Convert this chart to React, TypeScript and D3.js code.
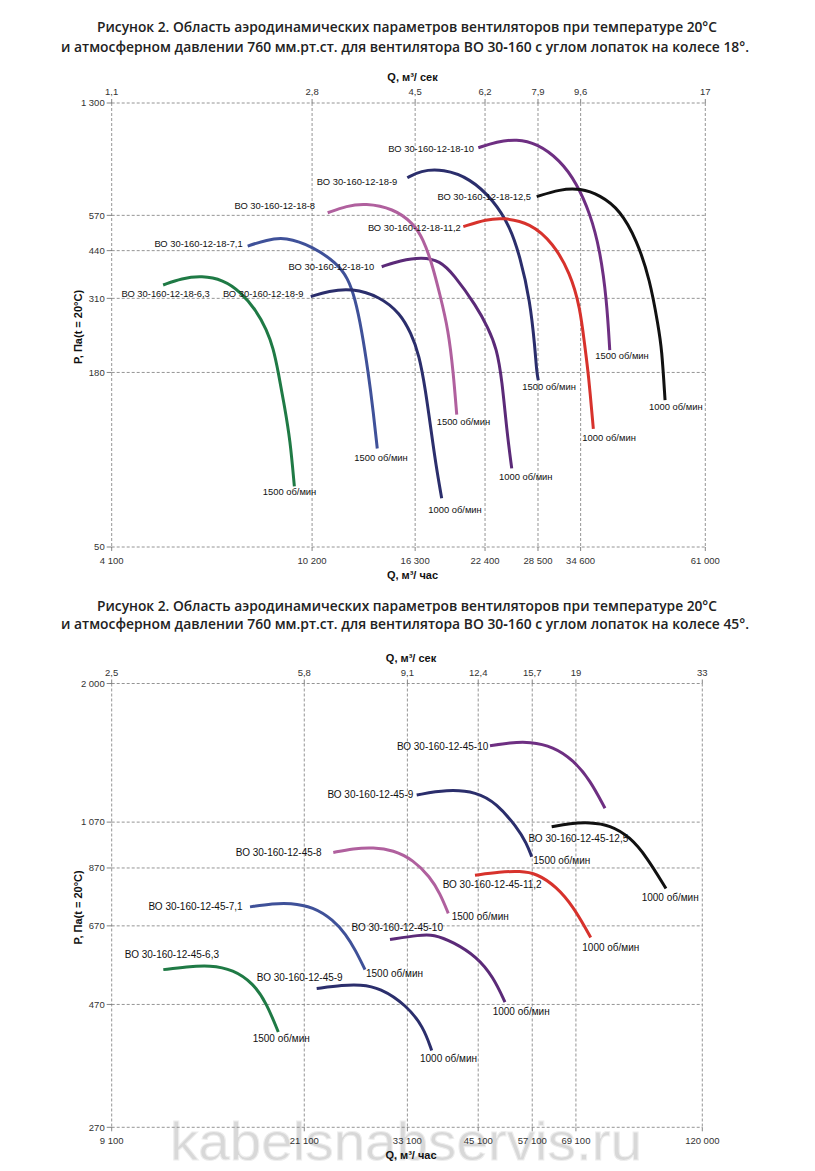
import React from "react";
import * as d3 from "d3";

type Pt = [number, number];

// ---------- Chart 1 (18°) ----------
const title18 = [
  "Рисунок 2. Область аэродинамических параметров вентиляторов при температуре 20°C",
  "и атмосферном давлении 760 мм.рт.ст. для вентилятора ВО 30‑160 с углом лопаток на колесе 18°.",
];
const qTicks18 = [4100, 10200, 16300, 22400, 28500, 34600, 61000];
const qTickLabels18 = ["4 100", "10 200", "16 300", "22 400", "28 500", "34 600", "61 000"];
const qSecLabels18 = ["1,1", "2,8", "4,5", "6,2", "7,9", "9,6", "17"];
const pTicks18 = [1300, 570, 440, 310, 180, 50];
const pTickLabels18 = ["1 300", "570", "440", "310", "180", "50"];

const s18_63: Pt[] = [[5180, 342], [5640, 359], [6175, 366], [6810, 355], [7350, 326], [7900, 285], [8300, 246], [8550, 215], [8750, 180], [9000, 140], [9230, 110], [9410, 78]];
const s18_71: Pt[] = [[7610, 455], [8300, 476], [9020, 487], [10260, 453], [11410, 401], [12000, 360], [12400, 310], [12780, 246], [13170, 180], [13480, 134], [13720, 103]];
const s18_9a: Pt[] = [[10140, 314], [11000, 327], [12215, 334], [13890, 314], [15220, 278], [16000, 240], [16600, 205], [17090, 158], [17520, 118], [17920, 91], [18390, 71.5]];
const s18_10a: Pt[] = [[14000, 391], [15216, 409], [16817, 420], [18250, 408], [19390, 371], [21570, 292], [22700, 250], [23620, 215], [24200, 170], [24720, 118], [25290, 89]];
const s18_8: Pt[] = [[10950, 581], [11940, 611], [12976, 623], [14756, 600], [16164, 538], [16900, 480], [17600, 400], [18252, 318], [18955, 246], [19390, 180], [19694, 132]];
const s18_9b: Pt[] = [[15730, 751], [16665, 791], [18528, 801], [20920, 748], [23258, 638], [25094, 525], [26262, 421], [27485, 306], [28116, 215], [28333, 180], [28541, 170]];
const s18_10b: Pt[] = [[21726, 936], [23621, 979], [25872, 998], [28333, 967], [31507, 856], [33994, 721], [36114, 579], [37795, 442], [38961, 306], [39500, 212]];
const s18_112: Pt[] = [[20293, 525], [22568, 554], [24340, 560], [27485, 540], [30556, 465], [32970, 373], [34504, 292], [35296, 215], [35832, 180], [36658, 119]];
const s18_125: Pt[] = [[28333, 654], [31507, 690], [34504, 695], [37795, 662], [41390, 593], [44657, 476], [47440, 355], [49266, 252], [50036, 215], [50795, 147]];

// ---------- Chart 2 (45°) ----------
const title45 = [
  "Рисунок 2. Область аэродинамических параметров вентиляторов при температуре 20°C",
  "и атмосферном давлении 760 мм.рт.ст. для вентилятора ВО 30‑160 с углом лопаток на колесе 45°.",
];
const qTicks45 = [9100, 21100, 33100, 45100, 57100, 69100, 120000];
const qTickLabels45 = ["9 100", "21 100", "33 100", "45 100", "57 100", "69 100", "120 000"];
const qSecLabels45 = ["2,5", "5,8", "9,1", "12,4", "15,7", "19", "33"];
const pTicks45 = [2000, 1070, 870, 670, 470, 270];
const pTickLabels45 = ["2 000", "1 070", "870", "670", "470", "270"];

const s45_63: Pt[] = [[11400, 550], [12626, 557], [13978, 561], [15476, 550], [16889, 517], [17905, 472], [18836, 415]];
const s45_71: Pt[] = [[16647, 730], [18429, 741], [19822, 743], [21946, 730], [23950, 688], [25300, 645], [26400, 600], [27506, 550]];
const s45_9a: Pt[] = [[22275, 505], [25020, 513], [26912, 514], [29368, 507], [32998, 468], [35481, 425], [36808, 382]];
const s45_10a: Pt[] = [[30681, 630], [34972, 643], [37065, 645], [40447, 623], [44799, 583], [48166, 532], [50690, 475]];
const s45_8: Pt[] = [[23950, 933], [26135, 950], [28521, 955], [31124, 943], [33963, 902], [36535, 836], [38163, 776], [39573, 709]];
const s45_9b: Pt[] = [[34473, 1209], [39296, 1240], [44799, 1227], [48884, 1164], [53348, 1048], [55729, 972], [56962, 915]];
const s45_10b: Pt[] = [[47480, 1510], [51814, 1531], [56533, 1538], [62595, 1504], [68312, 1416], [73476, 1294], [78448, 1139]];
const s45_112: Pt[] = [[44468, 842], [49594, 855], [54122, 858], [58217, 849], [63529, 799], [68312, 730], [72424, 657], [73704, 636]];
const s45_125: Pt[] = [[62158, 1048], [67328, 1064], [73476, 1069], [80181, 1056], [87495, 1001], [94113, 915], [102393, 793]];

// ---------- styling / layout ----------
const C = {
  green: "#1f7a45",
  blue: "#3f5199",
  navy: "#2b2e6c",
  purple: "#5b2a78",
  purple2: "#6e2f82",
  pink: "#b0609e",
  red: "#d7322c",
  black: "#111111",
};

interface SeriesDef {
  name: string;
  rpm?: string;
  color: string;
  data: Pt[];
  nDx: number; nDy: number;
  rDx?: number; rDy?: number;
}

const series18: SeriesDef[] = [
  { name: "ВО 30-160-12-18-6,3", rpm: "1500 об/мин", color: C.green, data: s18_63, nDx: 46.7, nDy: 8.3, rDx: -31.6, rDy: 5.6 },
  { name: "ВО 30-160-12-18-7,1", rpm: "1500 об/мин", color: C.blue, data: s18_71, nDx: -5, nDy: -2.7, rDx: -23, rDy: 9.4 },
  { name: "ВО 30-160-12-18-9", rpm: "1000 об/мин", color: C.navy, data: s18_9a, nDx: -7.4, nDy: -3.4, rDx: -13.4, rDy: 11.7 },
  { name: "ВО 30-160-12-18-10", rpm: "1000 об/мин", color: C.purple, data: s18_10a, nDx: -7.4, nDy: 0, rDx: -12.7, rDy: 8.4 },
  { name: "ВО 30-160-12-18-8", rpm: "1500 об/мин", color: C.pink, data: s18_8, nDx: -12.7, nDy: -6.7, rDx: -20, rDy: 6.7 },
  { name: "ВО 30-160-12-18-9", rpm: "1500 об/мин", color: C.navy, data: s18_9b, nDx: -10, nDy: 4, rDx: -16, rDy: 6 },
  { name: "ВО 30-160-12-18-10", rpm: "1500 об/мин", color: C.purple2, data: s18_10b, nDx: -4.3, nDy: 0.6, rDx: -14.5, rDy: 6 },
  { name: "ВО 30-160-12-18-11,2", rpm: "1000 об/мин", color: C.red, data: s18_112, nDx: -2.6, nDy: 1, rDx: -11, rDy: 9 },
  { name: "ВО 30-160-12-18-12,5", rpm: "1000 об/мин", color: C.black, data: s18_125, nDx: -5.7, nDy: 0, rDx: -16, rDy: 6.7 },
];

const series45: SeriesDef[] = [
  { name: "ВО 30-160-12-45-6,3", rpm: "1500 об/мин", color: C.green, data: s45_63, nDx: 55.7, nDy: -15.3, rDx: -25.6, rDy: 6 },
  { name: "ВО 30-160-12-45-7,1", rpm: "1500 об/мин", color: C.blue, data: s45_71, nDx: -7.3, nDy: 0, rDx: 1, rDy: 4 },
  { name: "ВО 30-160-12-45-9", rpm: "1000 об/мин", color: C.navy, data: s45_9a, nDx: 26, nDy: -11, rDx: -11.7, rDy: 8.3 },
  { name: "ВО 30-160-12-45-10", rpm: "1000 об/мин", color: C.purple, data: s45_10a, nDx: 53, nDy: -11.6, rDx: -12.3, rDy: 9.3 },
  { name: "ВО 30-160-12-45-8", rpm: "1500 об/мин", color: C.pink, data: s45_8, nDx: -11.6, nDy: 0.4, rDx: 3.4, rDy: 3.4 },
  { name: "ВО 30-160-12-45-9", rpm: "1500 об/мин", color: C.navy, data: s45_9b, nDx: -3.4, nDy: -1, rDx: 1.6, rDy: 3.3 },
  { name: "ВО 30-160-12-45-10", color: C.purple2, data: s45_10b, nDx: -1.7, nDy: 1 },
  { name: "ВО 30-160-12-45-11,2", rpm: "1000 об/мин", color: C.red, data: s45_112, nDx: 66.7, nDy: 9, rDx: -8.4, rDy: 10.4 },
  { name: "ВО 30-160-12-45-12,5", rpm: "1000 об/мин", color: C.black, data: s45_125, nDx: 76.6, nDy: 11.6, rDx: -24.3, rDy: 9 },
];

interface ChartCfg {
  title: string[];
  qTicks: number[]; qTickLabels: string[]; qSecLabels: string[];
  pTicks: number[]; pTickLabels: string[];
  series: SeriesDef[];
  x0: number; x1: number; y0: number; y1: number;
  titleY: number[];
  labelFont: number;
}

const FONT = "'Liberation Sans', Arial, Helvetica, sans-serif";

function Chart({ cfg }: { cfg: ChartCfg }) {
  const { x0, x1, y0, y1 } = cfg;
  const x = d3.scaleLog().domain([cfg.qTicks[0], cfg.qTicks[cfg.qTicks.length - 1]]).range([x0, x1]);
  const y = d3.scaleLog().domain([cfg.pTicks[cfg.pTicks.length - 1], cfg.pTicks[0]]).range([y1, y0]);
  const line = d3.line<Pt>().x((d) => x(d[0])).y((d) => y(d[1])).curve(d3.curveBasis);
  const gridStyle = { stroke: "#7a7a7a", strokeWidth: 0.8, strokeDasharray: "3,2" };
  const cx = (x0 + x1) / 2 + 4;
  return (
    <g>
      {/* titles */}
      <text x={407} y={cfg.titleY[0]} textAnchor="middle" fontFamily="'Open Sans', sans-serif" fontWeight={600} fontSize={14} fill="#222" textLength={620} lengthAdjust="spacingAndGlyphs">{cfg.title[0]}</text>
      <text x={405} y={cfg.titleY[1]} textAnchor="middle" fontFamily="'Open Sans', sans-serif" fontWeight={600} fontSize={14} fill="#222" textLength={688} lengthAdjust="spacingAndGlyphs">{cfg.title[1]}</text>
      {/* axis titles */}
      <text x={cx} y={y0 - 22} textAnchor="middle" fontFamily={FONT} fontWeight={700} fontSize={11} fill="#111">Q, м³/ сек</text>
      <text x={cx} y={y1 + 32} textAnchor="middle" fontFamily={FONT} fontWeight={700} fontSize={11} fill="#111">Q, м³/ час</text>
      <text transform={`translate(${x0 - 30},${(y0 + y1) / 2 + 2}) rotate(-90)`} textAnchor="middle" fontFamily={FONT} fontWeight={700} fontSize={11} fill="#111">P, Па(t = 20°C)</text>
      {/* grid */}
      {cfg.qTicks.map((q, i) => (
        <g key={"q" + i}>
          <line x1={x(q)} x2={x(q)} y1={y0} y2={y1} style={gridStyle} />
          <line x1={x(q)} x2={x(q)} y1={y1} y2={y1 + 4} stroke="#666" strokeWidth={0.8} />
          <line x1={x(q)} x2={x(q)} y1={y0 - 4} y2={y0} stroke="#666" strokeWidth={0.8} />
          <text x={x(q)} y={y1 + 17} textAnchor="middle" fontFamily={FONT} fontSize={9.5} fill="#333">{cfg.qTickLabels[i]}</text>
          <text x={x(q)} y={y0 - 8} textAnchor="middle" fontFamily={FONT} fontSize={9.5} fill="#333">{cfg.qSecLabels[i]}</text>
        </g>
      ))}
      {cfg.pTicks.map((p, i) => (
        <g key={"p" + i}>
          <line x1={x0} x2={x1} y1={y(p)} y2={y(p)} style={gridStyle} />
          <line x1={x0 - 5} x2={x0} y1={y(p)} y2={y(p)} stroke="#666" strokeWidth={0.8} />
          <text x={x0 - 7} y={y(p)} dy="0.35em" textAnchor="end" fontFamily={FONT} fontSize={9.5} fill="#333">{cfg.pTickLabels[i]}</text>
        </g>
      ))}
      {/* curves */}
      {cfg.series.map((s, i) => (
        <path key={"c" + i} d={line(s.data) || ""} fill="none" stroke={s.color} strokeWidth={3} strokeLinecap="butt" />
      ))}
      {/* labels */}
      {cfg.series.map((s, i) => {
        const a = s.data[0];
        const b = s.data[s.data.length - 1];
        return (
          <g key={"l" + i} fontFamily={FONT} fontSize={cfg.labelFont} fill="#111">
            <text x={x(a[0]) + s.nDx} y={y(a[1]) + s.nDy} dy="0.35em" textAnchor="end">{s.name}</text>
            {s.rpm && (
              <text x={x(b[0]) + (s.rDx || 0)} y={y(b[1]) + (s.rDy || 0)} dy="0.35em" textAnchor="start">{s.rpm}</text>
            )}
          </g>
        );
      })}
    </g>
  );
}

const chart18: ChartCfg = {
  title: title18,
  qTicks: qTicks18, qTickLabels: qTickLabels18, qSecLabels: qSecLabels18,
  pTicks: pTicks18, pTickLabels: pTickLabels18,
  series: series18,
  x0: 111.7, x1: 705.3, y0: 103, y1: 547,
  titleY: [32, 52],
  labelFont: 9.4,
};

const chart45: ChartCfg = {
  title: title45,
  qTicks: qTicks45, qTickLabels: qTickLabels45, qSecLabels: qSecLabels45,
  pTicks: pTicks45, pTickLabels: pTickLabels45,
  series: series45,
  x0: 111.7, x1: 702.3, y0: 683.5, y1: 1127.3,
  titleY: [611, 629],
  labelFont: 10,
};

export default function App() {
  return (
    <svg
      width={815}
      height={1171}
      viewBox="0 0 815 1171"
      style={{ position: "absolute", left: 0, top: 0, background: "#fff" }}
    >
      <rect x={0} y={0} width={815} height={1171} fill="#fff" />
      <text x={170} y={1160} fontFamily={FONT} fontSize={54} fill="#d8d8d8" stroke="#eeeeee" strokeWidth={1} textLength={472} lengthAdjust="spacingAndGlyphs">kabelsnabservis.ru</text>
      <Chart cfg={chart18} />
      <Chart cfg={chart45} />
    </svg>
  );
}
